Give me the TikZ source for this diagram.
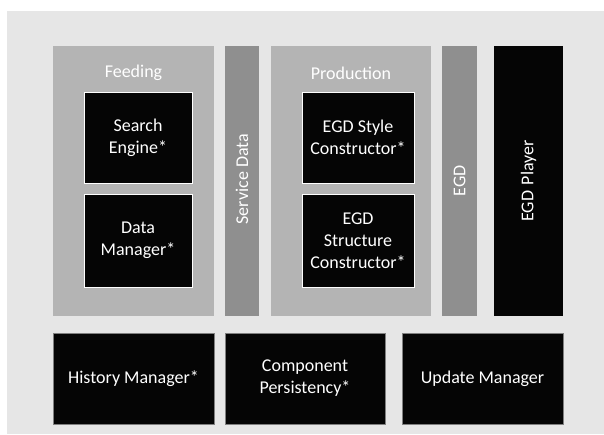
\documentclass[tikz,border=0pt]{standalone}
\usepackage{fontspec}
\setmainfont{Carlito}
\definecolor{bggray}{RGB}{230,230,230}
\definecolor{groupgray}{RGB}{180,180,180}
\definecolor{bargray}{RGB}{143,143,143}
\definecolor{boxblack}{RGB}{5,5,5}
\tikzset{
	group/.style={fill=groupgray, inner sep=0pt},
	bar/.style={fill=bargray, inner sep=0pt},
	block/.style={fill=boxblack, draw=white, line width=0.8pt, text=white, align=center, inner sep=0pt},
	base/.style={fill=boxblack, draw=gray, line width=0.5pt, text=white, align=center, inner sep=0pt},
	vlabel/.style={text=white, rotate=90}
}
\begin{document}
\begin{tikzpicture}[x=1pt, y=-1pt, font=\fontsize{18}{22}\selectfont]
		\useasboundingbox (0,0) rectangle (604,434);
		\fill[bggray] (7,11) rectangle (604,434);
		% upper groups
		\node[group, minimum width=161, minimum height=270] (feeding) at (133.5,181) {};
		\node[bar, minimum width=34, minimum height=270] (service) at (242,181) {};
		\node[group, minimum width=160, minimum height=270] (production) at (351,181) {};
		\node[bar, minimum width=35, minimum height=270] (egd) at (459.5,181) {};
		\node[fill=boxblack, inner sep=0pt, minimum width=69, minimum height=270] (player) at (528.5,181) {};
		\node[text=white] (feedinglabel) at (133.5,73) {Feeding};
		\node[text=white] (productionlabel) at (351,73) {Production};
		\node[vlabel] (servicelabel) at (242,179) {Service Data};
		\node[vlabel] (egdlabel) at (459.5,181) {EGD};
		\node[vlabel] (playerlabel) at (528.5,181) {EGD\hspace{0.3em}Player};
		% inner blocks
		\node[block, minimum width=108, minimum height=91] (search) at (138,137.5) {Search\\Engine*};
		\node[block, minimum width=108, minimum height=93] (datamgr) at (138,240.5) {Data\\Manager*};
		\node[block, minimum width=112, minimum height=91] (style) at (358,137.5) {EGD Style\\Constructor*};
		\node[block, minimum width=112, minimum height=93] (structure) at (358,240.5) {EGD\\Structure\\Constructor*};
		% bottom row
		\node[base, minimum width=161, minimum height=91] (history) at (133.5,378.5) {History Manager*};
		\node[base, minimum width=160, minimum height=91] (persist) at (305,378.5) {Component\\Persistency*};
		\node[base, minimum width=161, minimum height=91] (update) at (482.5,378.5) {Update Manager};
\end{tikzpicture}
\end{document}
